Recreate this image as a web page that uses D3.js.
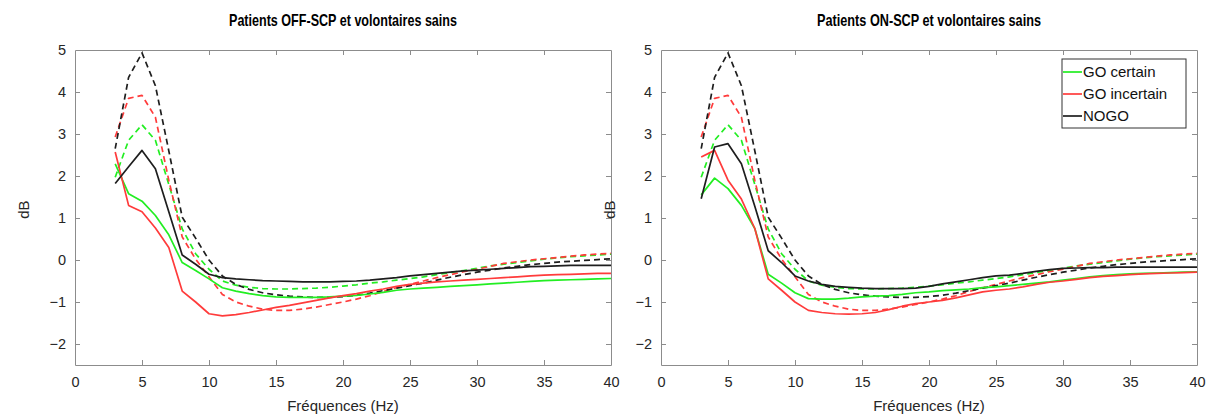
<!DOCTYPE html>
<html><head><meta charset="utf-8">
<script src="https://cdn.jsdelivr.net/npm/d3@7"></script>
<style>
html,body{margin:0;padding:0;background:#fff;}
svg{display:block;}
</style></head>
<body><svg id="chart" width="1214" height="415"></svg>
<script>
// ---- data ----
const freqs = [3,4,5,6,7,8,9,10,11,12,13,14,15,16,17,18,19,20,21,22,23,24,25,26,27,28,29,30,31,32,33,34,35,36,37,38,39,40];

// healthy volunteers (dashed), same in both panels
const sainsGoCertain = [1.97,2.85,3.22,2.85,1.8,0.74,0.15,-0.22,-0.5,-0.6,-0.65,-0.68,-0.69,-0.69,-0.68,-0.67,-0.65,-0.62,-0.59,-0.55,-0.52,-0.48,-0.44,-0.4,-0.35,-0.3,-0.25,-0.2,-0.14,-0.1,-0.06,-0.02,0.02,0.05,0.08,0.1,0.12,0.14];
const sainsGoIncertain = [2.93,3.85,3.92,3.4,1.9,0.55,0.02,-0.4,-0.82,-1.0,-1.1,-1.17,-1.2,-1.2,-1.17,-1.12,-1.06,-1.0,-0.93,-0.85,-0.75,-0.66,-0.58,-0.5,-0.42,-0.35,-0.28,-0.22,-0.15,-0.08,-0.04,0.0,0.03,0.06,0.09,0.12,0.14,0.16];
const sainsNogo = [2.65,4.35,4.93,4.15,2.6,1.02,0.52,0.0,-0.38,-0.58,-0.7,-0.78,-0.83,-0.86,-0.88,-0.89,-0.89,-0.87,-0.84,-0.79,-0.73,-0.67,-0.61,-0.55,-0.48,-0.41,-0.35,-0.29,-0.24,-0.19,-0.15,-0.11,-0.08,-0.05,-0.03,-0.01,0.01,0.03];

// patients OFF-SCP (solid, left panel)
const offGoCertain = [2.29,1.58,1.4,1.06,0.6,-0.06,-0.25,-0.45,-0.66,-0.74,-0.8,-0.85,-0.88,-0.89,-0.89,-0.89,-0.88,-0.86,-0.84,-0.81,-0.77,-0.72,-0.69,-0.67,-0.65,-0.63,-0.61,-0.59,-0.57,-0.55,-0.53,-0.51,-0.49,-0.48,-0.47,-0.46,-0.45,-0.44];
const offGoIncertain = [2.57,1.3,1.15,0.76,0.3,-0.74,-1.0,-1.28,-1.33,-1.3,-1.25,-1.19,-1.13,-1.08,-1.02,-0.96,-0.9,-0.85,-0.8,-0.74,-0.69,-0.63,-0.58,-0.55,-0.52,-0.5,-0.48,-0.46,-0.44,-0.42,-0.4,-0.38,-0.36,-0.35,-0.34,-0.33,-0.32,-0.32];
const offNogo = [1.82,2.22,2.61,2.17,1.15,0.12,-0.1,-0.34,-0.42,-0.45,-0.47,-0.49,-0.5,-0.51,-0.52,-0.52,-0.52,-0.51,-0.5,-0.48,-0.45,-0.42,-0.38,-0.35,-0.32,-0.29,-0.26,-0.24,-0.22,-0.2,-0.18,-0.16,-0.15,-0.14,-0.13,-0.13,-0.13,-0.13];

// patients ON-SCP (solid, right panel)
const onGoCertain = [1.55,1.95,1.7,1.3,0.75,-0.34,-0.55,-0.78,-0.92,-0.93,-0.93,-0.91,-0.88,-0.86,-0.85,-0.82,-0.78,-0.76,-0.73,-0.71,-0.69,-0.66,-0.64,-0.61,-0.58,-0.55,-0.52,-0.48,-0.44,-0.4,-0.37,-0.35,-0.33,-0.32,-0.31,-0.3,-0.29,-0.28];
const onGoIncertain = [2.45,2.61,1.9,1.45,0.75,-0.45,-0.72,-1.0,-1.2,-1.25,-1.28,-1.29,-1.28,-1.25,-1.18,-1.1,-1.04,-1.0,-0.96,-0.9,-0.83,-0.76,-0.72,-0.69,-0.64,-0.58,-0.53,-0.5,-0.46,-0.42,-0.39,-0.37,-0.35,-0.33,-0.32,-0.31,-0.3,-0.29];
const onNogo = [1.46,2.69,2.77,2.29,1.28,0.22,-0.06,-0.38,-0.5,-0.58,-0.63,-0.65,-0.67,-0.68,-0.68,-0.68,-0.67,-0.63,-0.57,-0.52,-0.47,-0.42,-0.38,-0.36,-0.32,-0.27,-0.23,-0.2,-0.19,-0.18,-0.18,-0.17,-0.17,-0.17,-0.17,-0.17,-0.17,-0.17];

const xTicks = [0,5,10,15,20,25,30,35,40];
const yTicks = [-2,-1,0,1,2,3,4,5];
const titles = ["Patients OFF-SCP et volontaires sains", "Patients ON-SCP et volontaires sains"];
const legendLabels = ["GO certain", "GO incertain", "NOGO"];
const xLabel = "Fréquences (Hz)";
const yLabel = "dB";

// ---- styling ----
const COL = {green:"#22ee22", red:"#ff3b3b", black:"#1e1e1e"};
const AXC = "#8c8c8c";
const TXT = "#262626";
const FONT = "'Liberation Sans', Arial, sans-serif";

const svg = d3.select("#chart");

const panels = [
  {x0:75, x1:611, title:titles[0], titleW:228,
   series:[
     {v:sainsGoCertain, c:COL.green, dash:true},
     {v:sainsGoIncertain, c:COL.red, dash:true},
     {v:sainsNogo, c:COL.black, dash:true},
     {v:offGoCertain, c:COL.green},
     {v:offGoIncertain, c:COL.red},
     {v:offNogo, c:COL.black}], legend:false},
  {x0:661, x1:1197, title:titles[1], titleW:224,
   series:[
     {v:sainsGoCertain, c:COL.green, dash:true},
     {v:sainsGoIncertain, c:COL.red, dash:true},
     {v:sainsNogo, c:COL.black, dash:true},
     {v:onGoCertain, c:COL.green},
     {v:onGoIncertain, c:COL.red},
     {v:onNogo, c:COL.black}], legend:true}
];

const yTop = 50, yBot = 365;

panels.forEach(p => {
  const x = d3.scaleLinear().domain([0,40]).range([p.x0, p.x1]);
  const y = d3.scaleLinear().domain([-2.5,5]).range([yBot, yTop]);
  const g = svg.append("g");
  const tl = 5;

  const xb = g.append("g").attr("transform", `translate(0,${yBot})`)
    .call(d3.axisBottom(x).tickValues(xTicks).tickSizeInner(-tl).tickSizeOuter(0).tickPadding(12));
  const yl = g.append("g").attr("transform", `translate(${p.x0},0)`)
    .call(d3.axisLeft(y).tickValues(yTicks).tickSizeInner(-tl).tickSizeOuter(0).tickPadding(9));
  const xt = g.append("g").attr("transform", `translate(0,${yTop})`)
    .call(d3.axisTop(x).tickValues(xTicks).tickSizeInner(-tl).tickSizeOuter(0).tickFormat(""));
  const yr = g.append("g").attr("transform", `translate(${p.x1},0)`)
    .call(d3.axisRight(y).tickValues(yTicks).tickSizeInner(-tl).tickSizeOuter(0).tickFormat(""));

  [xb, yl, xt, yr].forEach(a => {
    a.select(".domain").attr("stroke", AXC).attr("stroke-width", 1);
    a.selectAll(".tick line").attr("stroke", AXC);
    a.selectAll(".tick text").attr("fill", TXT).style("font-family", FONT).style("font-size", "14.5px");
  });
  [xb, xt].forEach(a => a.selectAll(".tick").filter(d => d === 0 || d === 40).select("line").remove());
  [yl, yr].forEach(a => a.selectAll(".tick").filter(d => d === 5).select("line").remove());

  const line = d3.line().x((d,i) => x(freqs[i])).y(d => y(d));
  p.series.forEach(s => {
    g.append("path").datum(s.v)
      .attr("d", line)
      .attr("fill", "none")
      .attr("stroke", s.c)
      .attr("stroke-width", 1.7)
      .attr("stroke-linejoin", "round")
      .attr("stroke-dasharray", s.dash ? "6,4" : null);
  });

  g.append("text").attr("x", (p.x0 + p.x1)/2).attr("y", 26)
    .attr("text-anchor", "middle")
    .attr("textLength", p.titleW).attr("lengthAdjust", "spacingAndGlyphs")
    .style("font-family", "'Liberation Sans Narrow', 'Liberation Sans', Arial, sans-serif")
    .style("font-weight", "bold").style("font-size", "16.5px").attr("fill", "#000")
    .text(p.title);

  g.append("text").attr("x", (p.x0 + p.x1)/2).attr("y", 411)
    .attr("text-anchor", "middle")
    .style("font-family", FONT).style("font-size", "15px").attr("fill", TXT)
    .text(xLabel);

  g.append("text").attr("transform", `translate(${p.x0 - 46},${y(1.2)}) rotate(-90)`)
    .attr("text-anchor", "middle")
    .style("font-family", FONT).style("font-size", "15px").attr("fill", TXT)
    .text(yLabel);

  if (p.legend) {
    const lx = 1062, ly = 59, lw = 124, lh = 69;
    const lg = g.append("g");
    lg.append("rect").attr("x", lx).attr("y", ly).attr("width", lw).attr("height", lh)
      .attr("fill", "#fff").attr("stroke", "#333").attr("stroke-width", 1);
    const lc = [COL.green, COL.red, COL.black];
    legendLabels.forEach((t, i) => {
      const yy = ly + 13 + i * 22;
      lg.append("line").attr("x1", lx + 1).attr("x2", lx + 20).attr("y1", yy).attr("y2", yy)
        .attr("stroke", lc[i]).attr("stroke-width", 1.7);
      lg.append("text").attr("x", lx + 21).attr("y", yy + 5)
        .style("font-family", FONT).style("font-size", "15px").attr("fill", "#111")
        .text(t);
    });
  }
});
</script>
</body></html>
